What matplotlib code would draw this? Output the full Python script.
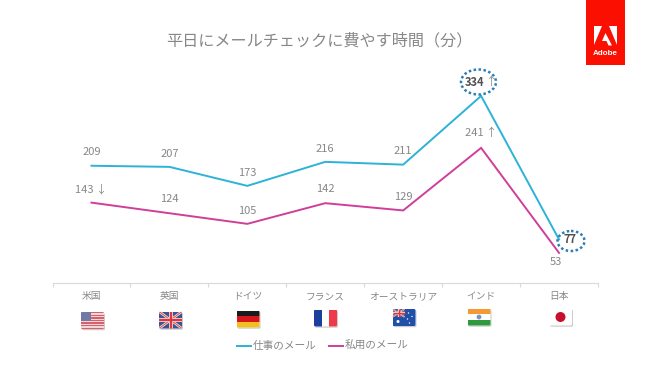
import numpy as np
import matplotlib
matplotlib.use('Agg')
import matplotlib.pyplot as plt
from matplotlib.patches import Rectangle, Ellipse, Polygon, Circle, FancyBboxPatch

plt.rcParams['font.family'] = ['Noto Sans CJK JP', 'DejaVu Sans']

countries = ['米国', '英国', 'ドイツ', 'フランス', 'オーストラリア', 'インド', '日本']
work_mail = [209, 207, 173, 216, 211, 334, 77]
private_mail = [143, 124, 105, 142, 129, 241, 53]
work_labels = ['209', '207', '173', '216', '211', '334', '77']
private_labels = ['143 ↓', '124', '105', '142', '129', '241 ↑', '53']
title = '平日にメールチェックに費やす時間（分）'

BLUE = '#2db2d8'
PINK = '#cf3f9a'
GREY = '#878787'
W, H = 650, 365

fig = plt.figure(figsize=(W / 100, H / 100), dpi=100)

# main chart, lined up with the pixels of the reference
ax = fig.add_axes([52.5 / W, 1 - 282.5 / H, 545.5 / W, 201.1 / H])
x = np.arange(len(countries))
ax.plot(x, work_mail, color=BLUE, lw=1.4, solid_joinstyle='miter')
ax.plot(x, private_mail, color=PINK, lw=1.4, solid_joinstyle='miter')
ax.set_xlim(-0.5, 6.5)
ax.set_ylim(0, 360)
ax.set_yticks([])
for s in ['top', 'left', 'right']:
    ax.spines[s].set_visible(False)
ax.spines['bottom'].set_color('#d9d9d9')
ax.spines['bottom'].set_linewidth(0.8)
ax.set_xticks(np.arange(-0.5, 7, 1))
ax.set_xticklabels([])
ax.tick_params(axis='x', which='major', length=3, width=0.8, color='#d9d9d9')
ax.set_xticks(x, minor=True)
ax.set_xticklabels(countries, minor=True, fontsize=7, color=GREY)
ax.tick_params(axis='x', which='minor', length=0, pad=6.2)

# value labels, offsets in points from the line
work_off = [(0, 10), (0, 9.5), (0, 9), (0, 9.5), (0, 9.5), (-5, 10), (8, 0)]
private_off = [(-0.5, 9.5), (0, 10), (0, 9.5), (0, 10), (0, 9.5), (0, 11), (-2, -6.5)]
for i in x:
    bold = i in (5, 6)
    ax.annotate(work_labels[i], (i, work_mail[i]), xytext=work_off[i], textcoords='offset points',
                ha='center', va='center', fontsize=8, color='#505050' if bold else GREY,
                fontweight='bold' if bold else 'normal')
    ax.annotate(private_labels[i], (i, private_mail[i]), xytext=private_off[i], textcoords='offset points',
                ha='center', va='center', fontsize=8, color=GREY)

# overlay in pixel coordinates for title, logo, flags, legend
ov = fig.add_axes([0, 0, 1, 1], facecolor='none')
ov.set_xlim(0, W)
ov.set_ylim(H, 0)
ov.axis('off')

ov.text(319, 41, title, ha='center', va='center', fontsize=11.6, color=GREY)
ov.text(491, 82, '↑', ha='center', va='center', fontsize=8, color=GREY)

# adobe logo
ov.add_patch(Rectangle((585.7, 0), 39.3, 65, color='#fa0f00', lw=0))
ov.add_patch(Polygon([[594, 26], [602, 26], [594, 45]], color='white', lw=0))
ov.add_patch(Polygon([[609, 26], [617, 26], [617, 45]], color='white', lw=0))
ov.add_patch(Polygon([[605.5, 33], [612, 45.5], [608.5, 45.5], [606.5, 41], [602, 41]], color='white', lw=0))
ov.text(605.3, 53.5, 'Adobe', ha='center', va='center', fontsize=5.8, color='white',
        fontweight='bold', family=['Liberation Sans'])

# dotted call-outs
ov.add_patch(Ellipse((478.5, 82), 35, 25, fill=False, ec='#2b7db5', lw=1.8, ls=(0, (1, 1))))
ov.add_patch(Ellipse((571, 241), 27, 20, fill=False, ec='#2b7db5', lw=1.8, ls=(0, (1, 1))))


def flag_base(cx, cy):
    fw, fh = 23, 17
    left, top = cx - fw / 2, cy - fh / 2
    ov.add_patch(FancyBboxPatch((left + 1, top + 1.2), fw, fh, boxstyle='round,pad=0,rounding_size=1.5',
                                fc='#b5b5b5', ec='none', alpha=0.7))
    clip = FancyBboxPatch((left, top), fw, fh, boxstyle='round,pad=0,rounding_size=1.5',
                          fc='white', ec='none')
    ov.add_patch(clip)
    return left, top, fw, fh, clip


def flag_rect(clip, xy, w, h, c):
    r = Rectangle(xy, w, h, fc=c, ec='none')
    ov.add_patch(r)
    r.set_clip_path(clip)


def flag_line(clip, xs, ys, c, lw):
    l, = ov.plot(xs, ys, color=c, lw=lw, solid_capstyle='butt')
    l.set_clip_path(clip)


def union_jack(clip, l, t, w, h, scale=1.0):
    flag_rect(clip, (l, t), w, h, '#3c5590')
    flag_line(clip, [l, l + w], [t, t + h], '#f4eaea', 1.8 * scale)
    flag_line(clip, [l, l + w], [t + h, t], '#f4eaea', 1.8 * scale)
    flag_line(clip, [l, l + w], [t, t + h], '#e0454a', 0.7 * scale)
    flag_line(clip, [l, l + w], [t + h, t], '#e0454a', 0.7 * scale)
    flag_line(clip, [l + w / 2] * 2, [t, t + h], '#f4eaea', 2.8 * scale)
    flag_line(clip, [l, l + w], [t + h / 2] * 2, '#f4eaea', 2.8 * scale)
    flag_line(clip, [l + w / 2] * 2, [t, t + h], '#e0353c', 1.7 * scale)
    flag_line(clip, [l, l + w], [t + h / 2] * 2, '#e0353c', 1.7 * scale)


# USA
l, t, fw, fh, c = flag_base(92.5, 320.5)
flag_rect(c, (l, t), fw, fh, '#f3d5d8')
for i in range(7):
    flag_rect(c, (l, t + i * fh / 6.5), fw, fh / 13, '#d8606c')
flag_rect(c, (l, t), 10, 8.5, '#6f7ba6')
# UK
l, t, fw, fh, c = flag_base(170.5, 320)
union_jack(c, l, t, fw, fh)
# Germany
l, t, fw, fh, c = flag_base(248, 319)
flag_rect(c, (l, t), fw, fh / 3, '#1a1a1a')
flag_rect(c, (l, t + fh / 3), fw, fh / 3, '#d8141c')
flag_rect(c, (l, t + 2 * fh / 3), fw, fh / 3, '#f0c020')
# France
l, t, fw, fh, c = flag_base(325.5, 318)
flag_rect(c, (l, t), fw / 3, fh, '#1c3f9e')
flag_rect(c, (l + 2 * fw / 3, t), fw / 3, fh, '#ee3a4a')
# Australia
l, t, fw, fh, c = flag_base(404, 317.5)
flag_rect(c, (l, t), fw, fh, '#1f4fa8')
union_jack(c, l, t, 12, 8, 0.6)
for sx, sy, sr in [(5.5, 12.5, 1.5), (16, 4, 0.7), (19.5, 7.5, 0.7), (15, 10, 0.7), (17, 14, 0.7)]:
    ov.add_patch(Circle((l + sx, t + sy), sr, color='white', lw=0))
# India
l, t, fw, fh, c = flag_base(479, 317)
flag_rect(c, (l, t), fw, fh / 3, '#f59a32')
flag_rect(c, (l, t + 2 * fh / 3), fw, fh / 3, '#2f9a3c')
ov.add_patch(Circle((l + fw / 2, t + fh / 2), 2.4, fc='#7f8fc0', ec='none'))
# Japan
l, t, fw, fh, c = flag_base(560.5, 317)
ov.add_patch(Circle((l + fw / 2, t + fh / 2), 5, color='#c8102e', lw=0))

# legend
ov.plot([237, 251], [345.5, 345.5], color=BLUE, lw=1.4)
ov.text(253, 349, '仕事のメール', ha='left', va='baseline', fontsize=7.7, color=GREY)
ov.plot([329, 343], [345.5, 345.5], color=PINK, lw=1.4)
ov.text(344.5, 349, '私用のメール', ha='left', va='baseline', fontsize=7.7, color=GREY)

fig.savefig('out.png', dpi=100)
